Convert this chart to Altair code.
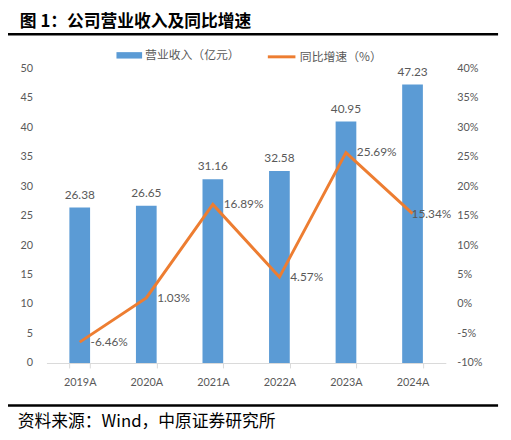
import altair as alt
import pandas as pd

years = ["2019A", "2020A", "2021A", "2022A", "2023A", "2024A"]
revenue = [26.38, 26.65, 31.16, 32.58, 40.95, 47.23]
growth = [-6.46, 1.03, 16.89, 4.57, 25.69, 15.34]
rev_name = "营业收入（亿元）"
gr_name = "同比增速（%）"
title_text = "图 1：公司营业收入及同比增速"
source_text = "资料来源：Wind，中原证券研究所"

df = pd.DataFrame({
    "year": years,
    "revenue": revenue,
    "growth": growth,
    "rev_s": [rev_name] * len(years),
    "gr_s": [gr_name] * len(years),
})
df["rev_lbl"] = [f"{v:.2f}" for v in revenue]
df["gr_lbl"] = [f"{v:.2f}%" for v in growth]
df["is_last"] = [i == len(years) - 1 for i in range(len(years))]

W, H = 405, 299
GREY = "#595959"
NUM_FONT = "Lato"
CJK_FONT = "Noto Sans CJK SC"
BLUE = "#5B9BD5"
ORANGE = "#ED7D31"

x_enc = alt.X(
    "year:N",
    sort=years,
    title=None,
    scale=alt.Scale(paddingInner=0.689, paddingOuter=0.3445),
    axis=alt.Axis(
        labelAngle=0, labelFont=NUM_FONT, labelFontSize=11, labelColor=GREY,
        domainColor="#D9D9D9", tickColor="#D9D9D9", tickSize=5, tickBand="extent",
        labelPadding=9, grid=False,
    ),
)

base = alt.Chart(df)

bars = base.mark_bar(color=BLUE).encode(
    fill=alt.Fill(
        "rev_s:N",
        scale=alt.Scale(domain=[rev_name], range=[BLUE]),
        legend=alt.Legend(
            title=None, orient="none", legendX=71, legendY=-26,
            symbolType="M-1,-0.25L1,-0.25L1,0.25L-1,0.25Z", symbolSize=676,
            symbolStrokeWidth=0, labelFont=CJK_FONT, labelFontSize=12,
            labelColor=GREY, labelOffset=3,
        ),
    )
)
bar_text = base.mark_text(
    font=NUM_FONT, fontSize=12, color=GREY, baseline="middle", dy=-13
).encode(text="rev_lbl:N")

left = alt.layer(bars, bar_text).encode(
    x=x_enc,
    y=alt.Y(
        "revenue:Q",
        title=None,
        scale=alt.Scale(domain=[0, 50], nice=False, zero=True),
        axis=alt.Axis(
            orient="left", values=list(range(0, 51, 5)), domain=False, ticks=False,
            grid=False, labelFont=NUM_FONT, labelFontSize=11, labelColor=GREY,
            labelPadding=14,
        ),
    ),
)

line = base.mark_line(strokeWidth=3).encode(
    stroke=alt.Stroke(
        "gr_s:N",
        scale=alt.Scale(domain=[gr_name], range=[ORANGE]),
        legend=alt.Legend(
            title=None, orient="none", legendX=223, legendY=-27,
            symbolType="stroke", symbolSize=784, symbolStrokeWidth=3,
            labelFont=CJK_FONT, labelFontSize=12, labelColor=GREY, labelOffset=3,
        ),
    )
)
line_text = base.mark_text(
    font=NUM_FONT, fontSize=12, color=GREY, align="left", baseline="middle", dx=11
).encode(text="gr_lbl:N").transform_filter("!datum.is_last")
line_text_last = base.mark_text(
    font=NUM_FONT, fontSize=12, color=GREY, align="left", baseline="middle", dx=-1
).encode(text="gr_lbl:N").transform_filter("datum.is_last")

right = alt.layer(line, line_text, line_text_last).encode(
    x=x_enc,
    y=alt.Y(
        "growth:Q",
        title=None,
        scale=alt.Scale(domain=[-10, 40], nice=False, zero=False),
        axis=alt.Axis(
            orient="right", values=list(range(-10, 41, 5)), domain=False, ticks=False,
            grid=False, labelFont=NUM_FONT, labelFontSize=11, labelColor=GREY,
            labelPadding=11, labelExpr="datum.value + '%'",
        ),
    ),
)

one = alt.Data(values=[{"k": 1}])
top_rule = alt.Chart(one).mark_rule(color="#000000", strokeWidth=2.5).encode(
    x=alt.value(-42), x2=alt.value(458), y=alt.value(-34.5)
)
bottom_rule = alt.Chart(one).mark_rule(color="#000000", strokeWidth=2.5).encode(
    x=alt.value(-42), x2=alt.value(458), y=alt.value(342)
)
title_mark = alt.Chart(one).mark_text(
    text=title_text, font=CJK_FONT, fontSize=17, fontWeight="bold", color="#000000",
    align="left", baseline="middle",
).encode(x=alt.value(-27), y=alt.value(-47))
source_mark = alt.Chart(one).mark_text(
    text=source_text, font=CJK_FONT, fontSize=17, color="#000000",
    align="left", baseline="middle",
).encode(x=alt.value(-29), y=alt.value(359))

chart = alt.layer(
    left, right, top_rule, bottom_rule, title_mark, source_mark
).resolve_scale(
    y="independent", fill="independent", stroke="independent"
).resolve_legend(fill="independent", stroke="independent").properties(
    width=W, height=H,
    autosize=alt.AutoSizeParams(type="none"),
    padding={"left": 39, "top": 58, "right": 58, "bottom": 70},
).configure_view(stroke=None)

chart.save("out.html", embed_options={"renderer": "svg", "actions": False})
